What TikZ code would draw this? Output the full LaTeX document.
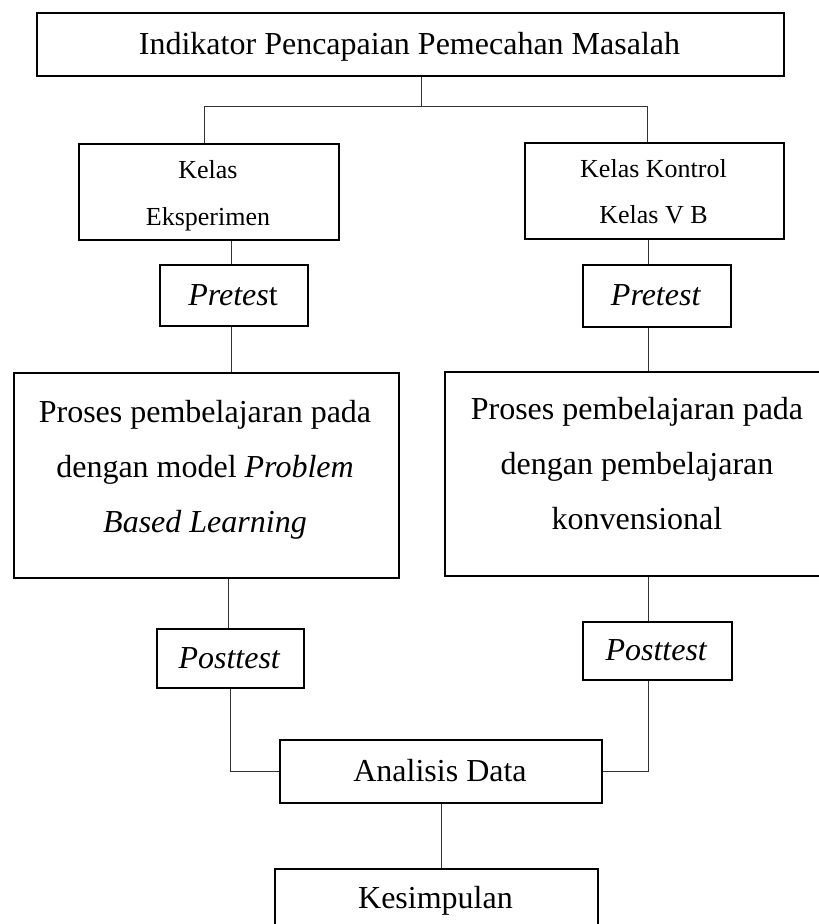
\documentclass[tikz,border=0pt]{standalone}
\usepackage{fontspec}
\setmainfont{Liberation Serif}
\begin{document}
\begin{tikzpicture}[x=1pt,y=-1pt,
  box/.style={draw=black, line width=2pt, inner sep=0pt, anchor=north west},
  conn/.style={draw=black!80, line width=1pt},
  txt/.style={inner sep=0pt, anchor=base},
  big/.style={font=\fontsize{32}{38}\selectfont},
  small/.style={font=\fontsize{26}{30}\selectfont}]
\useasboundingbox (0,0) rectangle (819,924);
\clip (0,0) rectangle (819,924);

% boxes
\node[box, minimum width=747pt, minimum height=63pt] (top) at (36,12) {};
\node[box, minimum width=260pt, minimum height=96pt] (ke) at (78,143) {};
\node[box, minimum width=259pt, minimum height=96pt] (kk) at (524,142) {};
\node[box, minimum width=148pt, minimum height=61pt] (prl) at (159,264) {};
\node[box, minimum width=148pt, minimum height=62pt] (prr) at (582,264) {};
\node[box, minimum width=385pt, minimum height=205pt] (pbl) at (13,372) {};
\node[box, minimum width=386pt, minimum height=204pt] (pbr) at (444,371) {};
\node[box, minimum width=147pt, minimum height=59pt] (pol) at (156,628) {};
\node[box, minimum width=149pt, minimum height=58pt] (por) at (582,621) {};
\node[box, minimum width=322pt, minimum height=63pt] (an) at (279,739) {};
\node[box, minimum width=323pt, minimum height=70pt] (ks) at (274,868) {};

% texts
\node[txt, big] (t0) at (409.5,54) {Indikator Pencapaian Pemecahan Masalah};
\node[txt, small] (t1a) at (208,178) {Kelas};
\node[txt, small] (t1b) at (208,225) {Eksperimen};
\node[txt, small] (t2a) at (653.5,177) {Kelas Kontrol};
\node[txt, small] (t2b) at (653.5,223) {Kelas V B};
\node[txt, big] (t3) at (233,305) {\textit{Pretes}t};
\node[txt, big] (t4) at (656,305) {\textit{Pretest}};
\node[txt, big] (t5a) at (205,422) {Proses pembelajaran pada};
\node[txt, big] (t5b) at (205,477) {dengan model \textit{Problem}};
\node[txt, big] (t5c) at (205,532) {\textit{Based Learning}};
\node[txt, big] (t6a) at (637,419) {Proses pembelajaran pada};
\node[txt, big] (t6b) at (637,474) {dengan pembelajaran};
\node[txt, big] (t6c) at (637,529) {konvensional};
\node[txt, big] (t7) at (229.5,668) {\textit{Posttest}};
\node[txt, big] (t8) at (656.5,660.5) {\textit{Posttest}};
\node[txt, big] (t9) at (440,781) {Analisis Data};
\node[txt, big] (t10) at (435.5,908) {Kesimpulan};

% connector coordinates
\coordinate (j0) at (421,106);
\coordinate (jl) at (204,106);
\coordinate (jr) at (647,106);
\coordinate (cl) at (231,0);
\coordinate (cl2) at (228,0);
\coordinate (cl3) at (230,0);
\coordinate (cr) at (648,0);

% connectors
\draw[conn] (top.south -| j0) -- (j0);
\draw[conn] (ke.north -| jl) -- (jl) -- (jr) -- (kk.north -| jr);
\draw[conn] (ke.south -| cl) -- (prl.north -| cl);
\draw[conn] (prl.south -| cl) -- (pbl.north -| cl);
\draw[conn] (pbl.south -| cl2) -- (pol.north -| cl2);
\draw[conn] (pol.south -| cl3) |- (an.west);
\draw[conn] (kk.south -| cr) -- (prr.north -| cr);
\draw[conn] (prr.south -| cr) -- (pbr.north -| cr);
\draw[conn] (pbr.south -| cr) -- (por.north -| cr);
\draw[conn] (por.south -| cr) |- (an.east);
\draw[conn] (an.south) -- (ks.north -| an.south);
\end{tikzpicture}
\end{document}
